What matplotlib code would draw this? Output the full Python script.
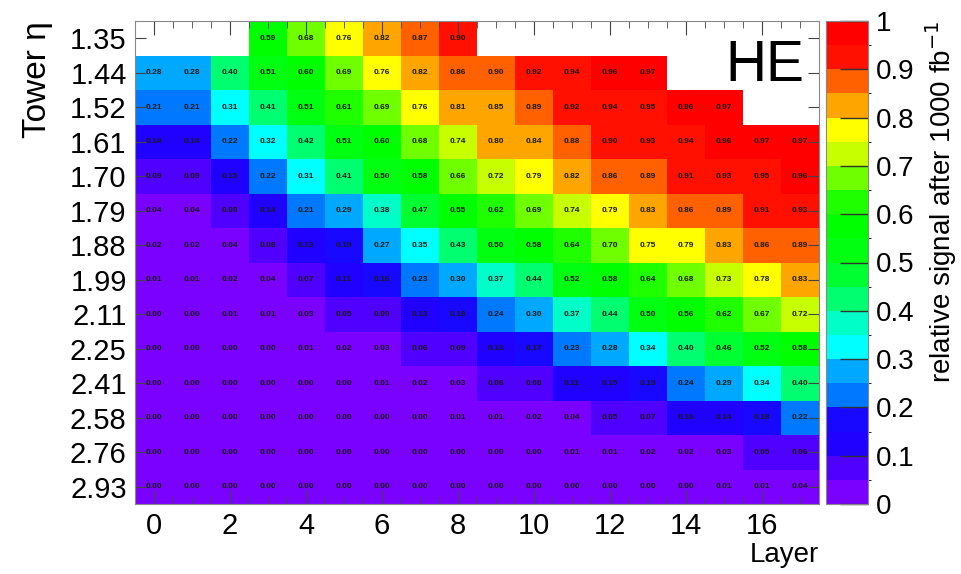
import numpy as np
import matplotlib
matplotlib.use("Agg")
import matplotlib.pyplot as plt
from matplotlib.colors import ListedColormap, BoundaryNorm
from matplotlib.ticker import MultipleLocator, FuncFormatter

plt.rcParams['font.family'] = ['Liberation Sans', 'DejaVu Sans']

# tower eta rows (top to bottom) and layer columns
eta_labels = ["1.35", "1.44", "1.52", "1.61", "1.70", "1.79", "1.88",
              "1.99", "2.11", "2.25", "2.41", "2.58", "2.76", "2.93"]
layers = list(range(18))
nan = np.nan

# relative signal per tower/layer (nan = no cell)
r135 = [nan, nan, nan, 0.59, 0.68, 0.76, 0.82, 0.87, 0.90, nan, nan, nan, nan, nan, nan, nan, nan, nan]
r144 = [0.28, 0.28, 0.40, 0.51, 0.60, 0.69, 0.76, 0.82, 0.86, 0.897, 0.92, 0.94, 0.96, 0.97, nan, nan, nan, nan]
r152 = [0.21, 0.21, 0.31, 0.41, 0.51, 0.61, 0.69, 0.76, 0.81, 0.85, 0.89, 0.92, 0.94, 0.95, 0.96, 0.97, nan, nan]
r161 = [0.14, 0.14, 0.22, 0.32, 0.42, 0.51, 0.60, 0.68, 0.74, 0.80, 0.84, 0.88, 0.90, 0.93, 0.94, 0.96, 0.97, 0.97]
r170 = [0.09, 0.09, 0.15, 0.22, 0.31, 0.41, 0.50, 0.58, 0.66, 0.72, 0.79, 0.82, 0.86, 0.89, 0.91, 0.93, 0.95, 0.96]
r179 = [0.04, 0.04, 0.08, 0.14, 0.21, 0.29, 0.38, 0.47, 0.55, 0.62, 0.69, 0.74, 0.79, 0.83, 0.86, 0.89, 0.91, 0.93]
r188 = [0.02, 0.02, 0.04, 0.08, 0.13, 0.19, 0.27, 0.35, 0.43, 0.50, 0.58, 0.64, 0.70, 0.75, 0.79, 0.83, 0.86, 0.89]
r199 = [0.01, 0.01, 0.02, 0.04, 0.07, 0.11, 0.16, 0.23, 0.30, 0.37, 0.44, 0.52, 0.58, 0.64, 0.68, 0.73, 0.78, 0.83]
r211 = [0.00, 0.00, 0.01, 0.01, 0.03, 0.05, 0.09, 0.13, 0.18, 0.24, 0.30, 0.37, 0.44, 0.50, 0.56, 0.62, 0.67, 0.72]
r225 = [0.00, 0.00, 0.00, 0.00, 0.01, 0.02, 0.03, 0.06, 0.09, 0.13, 0.17, 0.23, 0.28, 0.34, 0.40, 0.46, 0.52, 0.58]
r241 = [0.00, 0.00, 0.00, 0.00, 0.00, 0.00, 0.01, 0.02, 0.03, 0.06, 0.08, 0.11, 0.15, 0.19, 0.24, 0.29, 0.34, 0.40]
r258 = [0.00, 0.00, 0.00, 0.00, 0.00, 0.00, 0.00, 0.00, 0.01, 0.01, 0.02, 0.04, 0.05, 0.07, 0.10, 0.14, 0.18, 0.22]
r276 = [0.00, 0.00, 0.00, 0.00, 0.00, 0.00, 0.00, 0.00, 0.00, 0.00, 0.00, 0.01, 0.01, 0.02, 0.02, 0.03, 0.05, 0.06]
r293 = [0.00, 0.00, 0.00, 0.00, 0.00, 0.00, 0.00, 0.00, 0.00, 0.00, 0.00, 0.00, 0.00, 0.00, 0.00, 0.01, 0.01, 0.04]

data = np.array([r135, r144, r152, r161, r170, r179, r188,
                 r199, r211, r225, r241, r258, r276, r293])

# violet -> red palette, 20 levels of 0.05
palette = ["#7a00ff", "#5000ff", "#2000ff", "#1808ff", "#0078ff",
           "#00a8ff", "#00ffff", "#00ffc8", "#00ff70", "#00ff30",
           "#00ff10", "#00ff00", "#20ff00", "#70ff00", "#c8ff00",
           "#ffff00", "#ffa500", "#ff6000", "#ff1000", "#ff0000"]
cmap = ListedColormap(palette)
norm = BoundaryNorm(np.linspace(0, 1, len(palette) + 1), len(palette))

W, H = 962, 574
fig = plt.figure(figsize=(W / 100, H / 100), dpi=100)
ax = fig.add_axes([135 / W, (H - 504) / H, 684 / W, 483 / H])
cax = fig.add_axes([826 / W, (H - 504) / H, 42 / W, 483 / H])

x_edges = np.arange(len(layers) + 1) - 0.5
y_edges = np.arange(len(eta_labels) + 1) - 0.5
mesh = ax.pcolormesh(x_edges, y_edges, np.ma.masked_invalid(data), cmap=cmap, norm=norm)
ax.set_xlim(-0.5, 17.5)
ax.set_ylim(len(eta_labels) - 0.5, -0.5)

for i in range(data.shape[0]):
    for j in range(data.shape[1]):
        v = data[i, j]
        if not np.isnan(v):
            ax.text(layers[j], i, f"{v:.2f}", ha='center', va='center',
                    fontsize=6, fontweight='bold', color='#1a1a1a')

ax.set_yticks(range(len(eta_labels)))
ax.set_yticklabels(eta_labels)
ax.xaxis.set_major_locator(MultipleLocator(2))
ax.xaxis.set_minor_locator(MultipleLocator(0.5))
ax.tick_params(axis='both', which='both', direction='in', top=True, right=True,
               labelsize=21, color='#444444')
ax.tick_params(axis='x', which='major', length=10, pad=6)
ax.tick_params(axis='x', which='minor', length=5)
ax.tick_params(axis='y', which='major', length=8, pad=6)
ax.tick_params(axis='y', which='minor', left=False, right=False)
for s in ax.spines.values():
    s.set_color('#888888')
    s.set_linewidth(0.8)

ax.set_xlabel("Layer", fontsize=20, loc='right', labelpad=1)
ax.set_ylabel("Tower η", fontsize=24, loc='top', labelpad=12)
ax.text(0.921, 0.907, "HE", transform=ax.transAxes, ha='center', va='center',
        fontsize=41, color='black')

cb = fig.colorbar(mesh, cax=cax, ticks=np.linspace(0, 1, 11))
cb.outline.set_edgecolor('#888888')
cb.outline.set_linewidth(0.8)
cax.yaxis.set_major_formatter(FuncFormatter(lambda v, p: f"{v:g}"))
cax.tick_params(axis='y', direction='in', length=20, width=1, labelsize=20,
                color='#333333', pad=6)
cb.set_label("relative signal after 1000 fb$^{-1}$", fontsize=20, loc='top', labelpad=6)

fig.savefig("out.png", dpi=100)
